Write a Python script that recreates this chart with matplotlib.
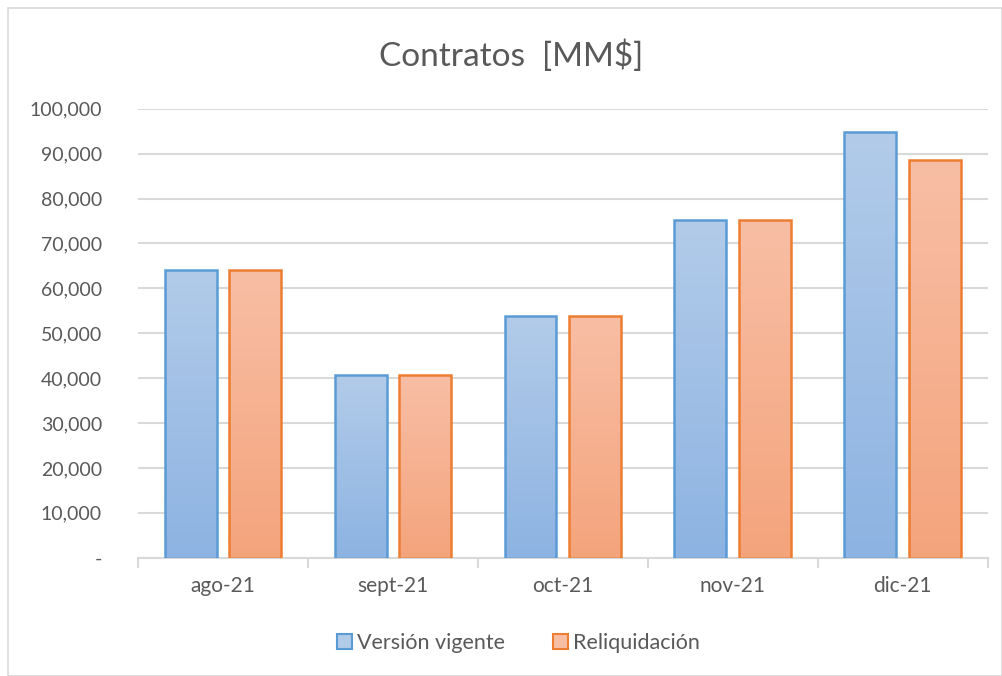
import numpy as np
import matplotlib
matplotlib.use("Agg")
import matplotlib.pyplot as plt
from matplotlib.patches import Rectangle
from matplotlib.ticker import FuncFormatter, FixedLocator

plt.rcParams['font.family'] = ['Lato', 'DejaVu Sans']

# data
meses = ['ago-21', 'sept-21', 'oct-21', 'nov-21', 'dic-21']
version_vigente = [64200, 40700, 53900, 75200, 94800]
reliquidacion = [64200, 40700, 53900, 75200, 88500]
series_names = ['Versión vigente', 'Reliquidación']

txt = '#595959'
grid_c = '#d9d9d9'

fig = plt.figure(figsize=(10.03, 6.76), dpi=100)
fig.patches.append(Rectangle((0.008, 0.0), 0.991, 0.988, transform=fig.transFigure,
                             fill=False, edgecolor='#d9d9d9', lw=1.2))
ax = fig.add_axes([0.1376, 0.175, 0.847, 0.664])

x = np.arange(len(meses))
w = 0.306
off = 0.19

styles = [
    (version_vigente, -off, '#5b9bd5', '#b2cbe9', '#8db3e2'),
    (reliquidacion, off, '#ed7d31', '#f8bea5', '#f4a47c'),
]

grad = np.linspace(0, 1, 256).reshape(-1, 1)
for vals, o, edge, top, bot in styles:
    cmap = matplotlib.colors.LinearSegmentedColormap.from_list('g', [bot, top])
    bars = ax.bar(x + o, vals, w, facecolor='none', edgecolor=edge, lw=1.8, zorder=3)
    for b in bars:
        bx, by = b.get_x(), b.get_y()
        bw, bh = b.get_width(), b.get_height()
        im = ax.imshow(grad, extent=[bx, bx + bw, 0, bh], origin='lower', cmap=cmap,
                       aspect='auto', zorder=2)
        im.set_clip_path(b)

ax.set_xlim(-0.5, len(meses) - 0.5)
ax.set_ylim(0, 100000)
ax.set_yticks(np.arange(0, 100001, 10000))
ax.yaxis.set_major_formatter(FuncFormatter(lambda v, p: '-' if v == 0 else f'{int(v):,}'))
ax.grid(axis='y', color=grid_c, lw=1.5, zorder=0)
ax.set_xticks(x)
ax.set_xticklabels(meses)
ax.xaxis.set_minor_locator(FixedLocator(np.arange(-0.5, len(meses), 1)))
ax.tick_params(axis='x', which='major', length=0, pad=13, labelsize=15, labelcolor=txt)
ax.tick_params(axis='x', which='minor', length=7, color=grid_c, width=1.5)
ax.tick_params(axis='y', length=0, pad=26, labelsize=14, labelcolor=txt)
for s in ['top', 'right', 'left']:
    ax.spines[s].set_visible(False)
ax.spines['bottom'].set_color(grid_c)
ax.spines['bottom'].set_linewidth(1.5)

fig.text(0.51, 0.918, 'Contratos  [MM$]', ha='center', va='center', fontsize=24, color=txt)

handles = [Rectangle((0, 0), 1, 1, facecolor=s[3], edgecolor=s[2], lw=1.5) for s in styles]
fig.legend(handles, series_names, loc='center', bbox_to_anchor=(0.517, 0.049), ncol=2,
           frameon=False, fontsize=15.5, labelcolor=txt, handlelength=0.7, handleheight=0.7,
           handletextpad=0.25, columnspacing=2.2)

fig.savefig('out.png', dpi=100, facecolor='white')
